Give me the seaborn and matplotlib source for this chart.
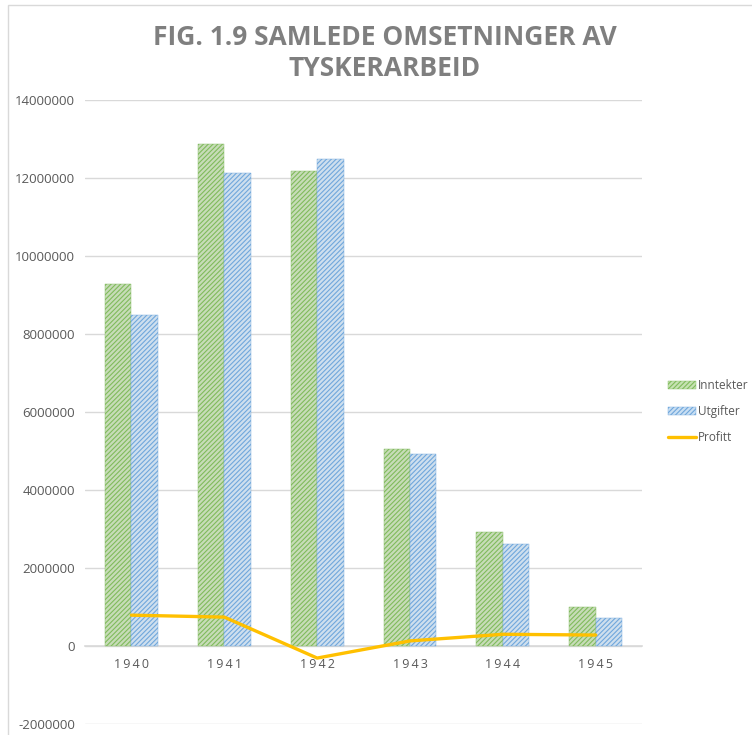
import pandas as pd
import matplotlib.pyplot as plt
import seaborn as sns
import numpy as np
from matplotlib.patches import Patch, Rectangle
from matplotlib.lines import Line2D
from matplotlib.ticker import FuncFormatter

# data
years = ['1940', '1941', '1942', '1943', '1944', '1945']
inntekter = [9280000, 12870000, 12180000, 5040000, 2920000, 1000000]
utgifter = [8490000, 12130000, 12490000, 4920000, 2620000, 720000]
profitt = [790000, 740000, -310000, 130000, 300000, 280000]

df = pd.DataFrame({'year': years, 'Inntekter': inntekter, 'Utgifter': utgifter})
long_df = df.melt(id_vars='year', var_name='serie', value_name='verdi')

sns.set_style('white')
plt.rcParams['font.family'] = ['Open Sans', 'DejaVu Sans']
plt.rcParams['hatch.linewidth'] = 0.8

green_face, green_hatch = '#c6e2b2', '#80bb5c'
blue_face, blue_hatch = '#c9dff3', '#70a7dc'
gold = '#ffc000'
grid_col = '#d9d9d9'
txt_col = '#595959'
hatch = '///////'

fig = plt.figure(figsize=(7.52, 7.35), dpi=100)
ax = fig.add_axes([0.113, 0.015, 0.741, 0.849])

# chart border
fig.patches.append(Rectangle((8 / 752, -0.1), 1.2, 1 - 5 / 735 + 0.1,
                             transform=fig.transFigure, fill=False,
                             edgecolor=grid_col, linewidth=1.0))

sns.barplot(data=long_df, x='year', y='verdi', hue='serie',
            palette=[green_face, blue_face], width=0.57, gap=0,
            legend=False, ax=ax, zorder=2)

for container, hc in zip(ax.containers, [green_hatch, blue_hatch]):
    for bar in container:
        bar.set_hatch(hatch)
        bar.set_edgecolor(hc)
        bar.set_linewidth(0.3)

sns.lineplot(x=np.arange(len(years)), y=profitt, color=gold,
             linewidth=2.4, ax=ax, zorder=3)

ax.set_xlim(-0.5, len(years) - 0.5)
ax.set_ylim(-2000000, 14000000)
ax.set_yticks(np.arange(-2000000, 14000001, 2000000))
ax.yaxis.set_major_formatter(FuncFormatter(lambda v, p: f'{int(v)}'))
ax.grid(axis='y', color=grid_col, linewidth=1.0, zorder=0)
ax.set_axisbelow(True)

for s in ['top', 'right', 'left']:
    ax.spines[s].set_visible(False)
ax.spines['bottom'].set_position(('data', 0))
ax.spines['bottom'].set_color(grid_col)
ax.spines['bottom'].set_linewidth(1.2)
ax.spines['bottom'].set_zorder(1)

ax.tick_params(axis='y', length=0, labelsize=9.5, labelcolor=txt_col, pad=7)
ax.tick_params(axis='x', length=0, labelsize=9, labelcolor=txt_col, pad=9)
ax.set_xticks(range(len(years)))
ax.set_xticklabels(['\u2009'.join(list(y)) for y in years])
ax.set_xlabel('')
ax.set_ylabel('')

fig.text(0.512, 0.928, 'FIG. 1.9 SAMLEDE OMSETNINGER AV\nTYSKERARBEID',
         ha='center', va='center', fontsize=19, fontweight='bold',
         color='#7f7f7f', linespacing=1.2)

handles = [
    Patch(facecolor=green_face, edgecolor=green_hatch, hatch=hatch, linewidth=0.3),
    Patch(facecolor=blue_face, edgecolor=blue_hatch, hatch=hatch, linewidth=0.3),
    Line2D([0], [0], color=gold, linewidth=2.4),
]
fig.legend(handles, ['Inntekter', 'Utgifter', 'Profitt'],
           loc='center left', bbox_to_anchor=(0.877, 0.44), frameon=False,
           fontsize=8.5, labelcolor=txt_col, handlelength=2.4,
           handletextpad=0.15, labelspacing=1.1, borderpad=0.2)

fig.savefig('out.png', dpi=100)
